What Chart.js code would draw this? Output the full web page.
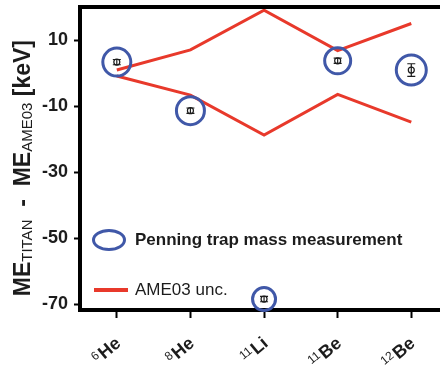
<!DOCTYPE html>
<html>
<head>
<meta charset="utf-8">
<script src="https://cdn.jsdelivr.net/npm/chart.js@4.4.1/dist/chart.umd.min.js"></script>
<style>
  html, body { margin: 0; padding: 0; background: #fff; overflow: hidden; }
  canvas { display: block; }
</style>
</head>
<body>
<canvas id="chart" width="440" height="366"></canvas>
<script>
// nuclides: mass number + element symbol
const massNumbers = ["6", "8", "11", "11", "12"];
const elements = ["He", "He", "Li", "Be", "Be"];

// ME(TITAN) - ME(AME03) in keV, with 1 sigma error
const titanDiff = [3.3, -11.4, -68.5, 3.7, 0.9];
const titanErr = [0.8, 0.8, 0.8, 0.8, 1.9];

// AME03 uncertainty band (keV)
const ameUpper = [0.9, 7.0, 19.0, 6.8, 15.0];
const ameLower = [-0.9, -6.7, -18.8, -6.5, -14.9];

const yTicks = [-70, -50, -30, -10, 10];
const legendLabels = ["Penning trap mass measurement", "AME03 unc."];

const FONT = "'Liberation Sans', Arial, sans-serif";
const RED = "#e8392b";
const BLUE = "#4058a8";
const INK = "#1c1c1c";

const toPoints = (arr) => arr.map((v, i) => ({ x: i, y: v }));

// error bars on the TITAN points
const errorBars = {
  id: "errorBars",
  afterDatasetsDraw(chart) {
    const { ctx } = chart;
    const ys = chart.scales.y;
    const meta = chart.getDatasetMeta(2);
    ctx.save();
    ctx.strokeStyle = INK;
    ctx.lineWidth = 1.2;
    meta.data.forEach((pt, i) => {
      const top = ys.getPixelForValue(titanDiff[i] + titanErr[i]);
      const bot = ys.getPixelForValue(titanDiff[i] - titanErr[i]);
      ctx.beginPath();
      ctx.moveTo(pt.x, top);
      ctx.lineTo(pt.x, bot);
      ctx.moveTo(pt.x - 4, top);
      ctx.lineTo(pt.x + 4, top);
      ctx.moveTo(pt.x - 4, bot);
      ctx.lineTo(pt.x + 4, bot);
      ctx.stroke();
    });
    ctx.restore();
  },
};

// frame top, nuclide labels, y title and legend
const decor = {
  id: "decor",
  afterDraw(chart) {
    const { ctx, chartArea } = chart;
    const xs = chart.scales.x;

    ctx.save();
    // top frame line
    ctx.strokeStyle = "#000";
    ctx.lineWidth = 4;
    ctx.beginPath();
    ctx.moveTo(chartArea.left - 2, chartArea.top);
    ctx.lineTo(chartArea.right, chartArea.top);
    ctx.stroke();

    // x labels, rotated, with superscript mass number
    ctx.fillStyle = INK;
    ctx.textAlign = "left";
    ctx.textBaseline = "alphabetic";
    elements.forEach((el, i) => {
      const px = xs.getPixelForValue(i);
      ctx.save();
      ctx.translate(px + 5, 345);
      ctx.rotate(-Math.PI * 40 / 180);
      ctx.font = "bold 18px " + FONT;
      const wEl = ctx.measureText(el).width;
      ctx.font = "12px " + FONT;
      const wSup = ctx.measureText(massNumbers[i]).width;
      const x0 = -(wEl + wSup + 1);
      ctx.fillText(massNumbers[i], x0, -5);
      ctx.font = "bold 18px " + FONT;
      ctx.fillText(el, x0 + wSup + 1, 0);
      ctx.restore();
    });

    // y title: ME_TITAN - ME_AME03 [keV]
    const runs = [
      { t: "ME", f: "bold 23px " + FONT, dy: 0 },
      { t: "TITAN", f: "15px " + FONT, dy: 2 },
      { t: "  -  ", f: "bold 23px " + FONT, dy: 0 },
      { t: "ME", f: "bold 23px " + FONT, dy: 0 },
      { t: "AME03", f: "15px " + FONT, dy: 2 },
      { t: " [keV]", f: "bold 23px " + FONT, dy: 0 },
    ];
    let total = 0;
    runs.forEach((r) => {
      ctx.font = r.f;
      r.w = ctx.measureText(r.t).width;
      total += r.w;
    });
    ctx.save();
    ctx.translate(30, 40 + total);
    ctx.rotate(-Math.PI / 2);
    let x = 0;
    runs.forEach((r) => {
      ctx.font = r.f;
      ctx.fillText(r.t, x, r.dy);
      x += r.w;
    });
    ctx.restore();

    // legend
    ctx.strokeStyle = BLUE;
    ctx.lineWidth = 3;
    ctx.beginPath();
    ctx.ellipse(109, 240, 15.5, 9.5, 0, 0, Math.PI * 2);
    ctx.stroke();
    ctx.font = "bold 17px " + FONT;
    ctx.fillText(legendLabels[0], 135, 245);

    ctx.strokeStyle = RED;
    ctx.lineWidth = 4;
    ctx.beginPath();
    ctx.moveTo(94, 290);
    ctx.lineTo(128, 290);
    ctx.stroke();
    ctx.font = "17px " + FONT;
    ctx.fillText(legendLabels[1], 135, 295);
    ctx.restore();
  },
};

new Chart(document.getElementById("chart"), {
  type: "line",
  data: {
    datasets: [
      {
        label: "AME03 upper",
        data: toPoints(ameUpper),
        borderColor: RED,
        borderWidth: 3,
        pointRadius: 0,
        tension: 0,
        order: 3,
      },
      {
        label: "AME03 lower",
        data: toPoints(ameLower),
        borderColor: RED,
        borderWidth: 3,
        pointRadius: 0,
        tension: 0,
        order: 3,
      },
      {
        label: "TITAN",
        data: toPoints(titanDiff),
        showLine: false,
        pointStyle: "circle",
        pointRadius: 3,
        borderColor: INK,
        borderWidth: 1.2,
        backgroundColor: "#fff",
        order: 1,
        clip: false,
      },
      {
        label: "Penning trap",
        data: toPoints(titanDiff),
        showLine: false,
        pointStyle: "circle",
        pointRadius: [14, 14, 11.5, 13, 15],
        borderColor: BLUE,
        borderWidth: 3,
        backgroundColor: "rgba(0,0,0,0)",
        order: 2,
        clip: false,
      },
    ],
  },
  options: {
    responsive: false,
    animation: false,
    devicePixelRatio: 1,
    layout: { autoPadding: false, padding: { top: 7, right: 0, left: 0, bottom: 0 } },
    plugins: {
      legend: { display: false },
      tooltip: { enabled: false },
    },
    scales: {
      x: {
        type: "linear",
        min: -0.5,
        max: 4.39,
        afterBuildTicks: (scale) => {
          scale.ticks = elements.map((_, i) => ({ value: i }));
        },
        afterFit: (scale) => {
          scale.height = 56;
        },
        ticks: { display: false },
        grid: {
          drawOnChartArea: false,
          tickLength: 8,
          tickWidth: 2,
          tickColor: "#000",
        },
        border: { color: "#000", width: 4 },
      },
      y: {
        min: -71.8,
        max: 20,
        afterBuildTicks: (scale) => {
          scale.ticks = yTicks.map((v) => ({ value: v }));
        },
        afterFit: (scale) => {
          scale.width = 80;
          scale.paddingTop = 0;
          scale.paddingBottom = 0;
        },
        ticks: {
          color: INK,
          padding: 6,
          font: { family: FONT, size: 18, weight: "bold" },
        },
        grid: {
          drawOnChartArea: false,
          tickLength: 6,
          tickWidth: 2,
          tickColor: "#000",
        },
        border: { color: "#000", width: 4 },
      },
    },
  },
  plugins: [errorBars, decor],
});
</script>
</body>
</html>
